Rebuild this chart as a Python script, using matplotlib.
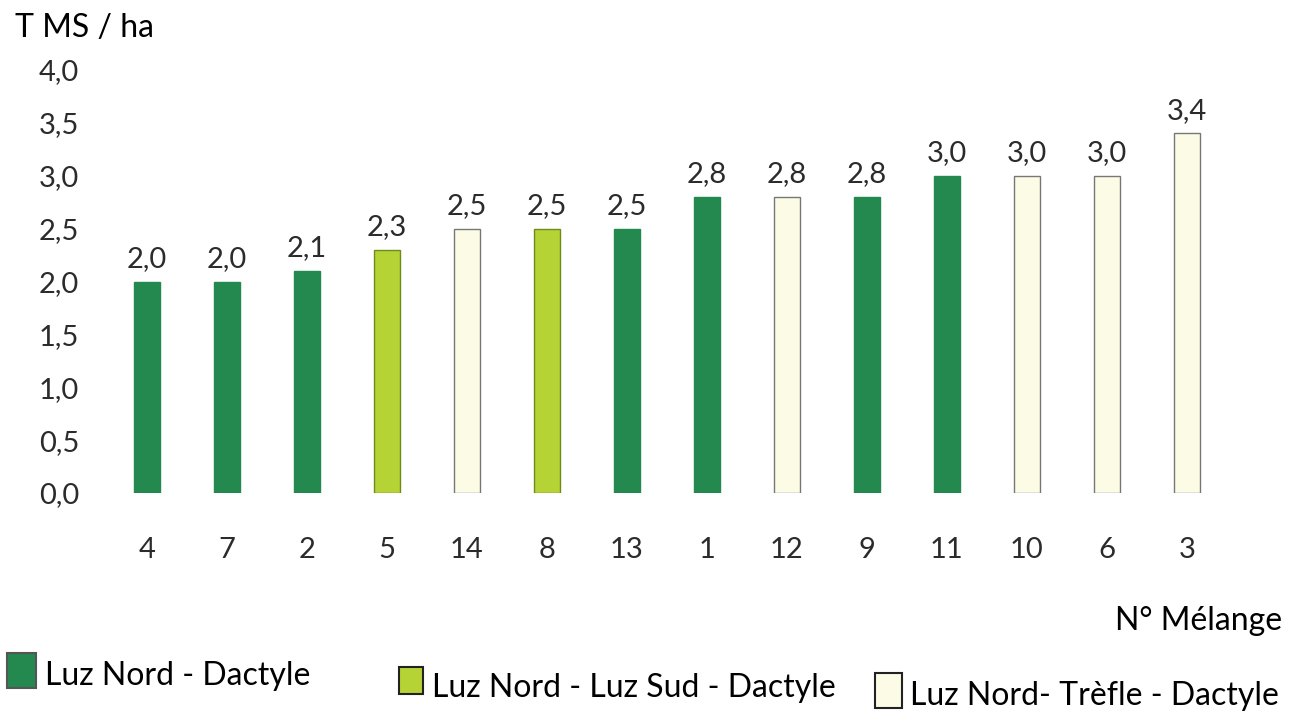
import matplotlib
matplotlib.use("Agg")
import matplotlib.pyplot as plt
from matplotlib.patches import Rectangle

plt.rcParams["font.family"] = ["Lato", "DejaVu Sans"]

melanges = ["4", "7", "2", "5", "14", "8", "13", "1", "12", "9", "11", "10", "6", "3"]
rendement = [2.0, 2.0, 2.1, 2.3, 2.5, 2.5, 2.5, 2.8, 2.8, 2.8, 3.0, 3.0, 3.0, 3.4]
groupe = ["LD", "LD", "LD", "LSD", "LTD", "LSD", "LD", "LD", "LTD", "LD", "LD", "LTD", "LTD", "LTD"]

groupes = ["LD", "LSD", "LTD"]
noms = ["Luz Nord - Dactyle", "Luz Nord - Luz Sud - Dactyle", "Luz Nord- Trèfle - Dactyle"]
couleurs = {"LD": "#24894f", "LSD": "#b5d334", "LTD": "#fbfbe6"}
bords = {"LD": "#24894f", "LSD": "#6f8a1e", "LTD": "#777777"}

TXT = "#2b2b2b"
W, H = 1300, 714

fig = plt.figure(figsize=(13, 7.14), dpi=100)
ax = fig.add_axes([107 / W, 1 - 493 / H, 1120 / W, 423 / H])

x = range(len(melanges))
bars = ax.bar(x, rendement, width=0.33,
              color=[couleurs[g] for g in groupe],
              edgecolor=[bords[g] for g in groupe], linewidth=1)

for b, v in zip(bars, rendement):
    ax.text(b.get_x() + b.get_width() / 2, v + 0.09, f"{v:.1f}".replace(".", ","),
            ha="center", va="bottom", fontsize=21, color=TXT)

ax.set_xlim(-0.5, len(melanges) - 0.5)
ax.set_ylim(0, 4.0)
ax.set_xticks(list(x))
ax.set_xticklabels(melanges)
yt = [0, 0.5, 1.0, 1.5, 2.0, 2.5, 3.0, 3.5, 4.0]
ax.set_yticks(yt)
ax.set_yticklabels([f"{v:.1f}".replace(".", ",") for v in yt])
ax.tick_params(axis="x", length=0, pad=32, labelsize=21, labelcolor=TXT)
ax.tick_params(axis="y", length=0, pad=20, labelsize=21, labelcolor=TXT)
for s in ax.spines.values():
    s.set_visible(False)

fig.text(15 / W, 1 - 37 / H, "T MS / ha", fontsize=23, color="black",
         ha="left", va="baseline")
fig.text(1282 / W, 1 - 630 / H, "N° Mélange", fontsize=23, color="black",
         ha="right", va="baseline")

# legende : (x carré, y haut, largeur, hauteur, x texte, ligne de base)
leg_pos = [(7, 653, 29, 35, 45, 685),
           (399, 667, 24, 27, 432, 697),
           (875, 673, 27, 35, 910, 705)]
for g, nom, (sx, sy, sw, sh, tx, ty) in zip(groupes, noms, leg_pos):
    fig.add_artist(Rectangle((sx / W, 1 - (sy + sh) / H), sw / W, sh / H,
                             transform=fig.transFigure, facecolor=couleurs[g],
                             edgecolor="#222222" if g != "LD" else "#555555", linewidth=1.5))
    fig.text(tx / W, 1 - ty / H, nom, fontsize=23, color="black",
             ha="left", va="baseline")

fig.savefig("out.png", dpi=100)
